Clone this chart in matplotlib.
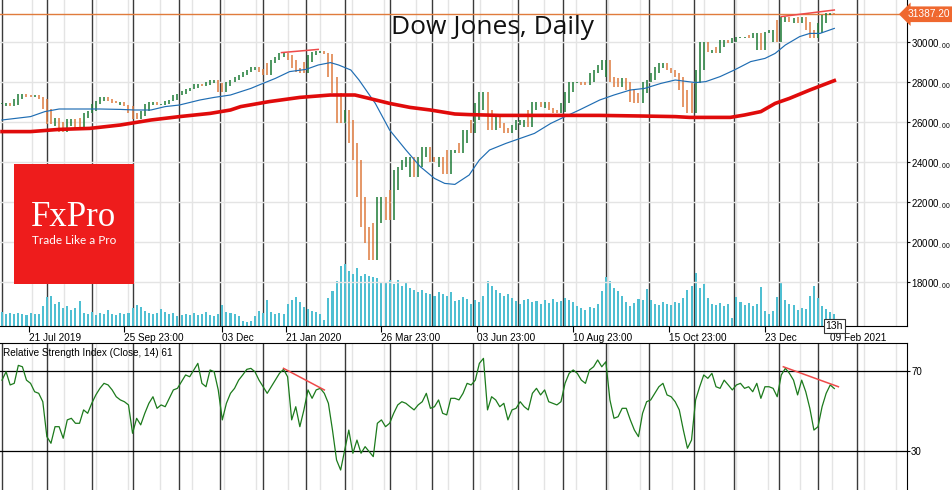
import matplotlib
matplotlib.use('Agg')
import matplotlib.pyplot as plt
import matplotlib.transforms as mtransforms
from matplotlib.patches import Rectangle
from matplotlib.ticker import FuncFormatter
import numpy as np

plt.rcParams['font.family'] = ['Liberation Sans', 'DejaVu Sans']
plt.rcParams['font.size'] = 7.2
plt.rcParams['mathtext.fontset'] = 'custom'
plt.rcParams['mathtext.rm'] = 'Liberation Sans'
plt.rcParams['mathtext.default'] = 'regular'

# Dow Jones daily, Jul 2019 - Feb 2021, one sample every 2 trading days
close = [
    26900, 26950, 26800, 26850, 27150, 27400, 27300, 27250, 27350, 27250,
    27150, 26650, 25900, 26200, 25800, 25500, 26000, 26150, 25800, 25700,
    26200, 26450, 26550, 26900, 27050, 27250, 27150, 27050, 26950, 27000,
    26850, 26800, 26450, 26150, 26300, 26550, 26900, 27000, 26850, 26850,
    26900, 27050, 27100, 27350, 27400, 27550, 27650, 27700, 27900, 27800,
    27850, 28000, 28100, 27950, 27500, 27800, 28000, 28100, 28250, 28350,
    28500, 28600, 28750, 28650, 28500, 28350, 28950, 29100, 29250, 29450,
    29350, 29100, 28700, 28500, 28450, 29000, 29350, 29500, 29550, 29450,
    29400, 28250, 27450, 25950, 26600, 26100, 24950, 24100, 22250, 20750,
    19950, 19100, 20950, 22250, 21750, 21100, 22600, 23600, 23750, 24100,
    24250, 23250, 23750, 24250, 24750, 24250, 24000, 24250, 23750, 23400,
    24600, 24600, 24450, 24950, 25600, 25450, 26100, 26950, 27500, 26600,
    25600, 26250, 25950, 25700, 25450, 25600, 25850, 26100, 26100, 25750,
    26600, 27000, 26750, 27000, 26700, 26600, 26450, 26500, 26950, 27500,
    28000, 28000, 27950, 27850, 28000, 28450, 28600, 28850, 29100, 28250,
    28000, 27750, 28200, 28000, 27600, 27000, 26950, 27450, 28000, 28100,
    28450, 28750, 28950, 28700, 28600, 28450, 28250, 27600, 26750, 26450,
    27950, 28600, 30000, 29500, 29600, 29450, 29750, 30100, 29950, 30000,
    30200, 30250, 30250, 30200, 30350, 30450, 29600, 30450, 30500, 30600,
    30000, 31100, 31250, 31000, 31200, 30950, 31250, 31000, 30600, 30200,
    30450, 30950, 31350, 31450, 31387.2,
]

volume = [
    14, 12, 13, 12, 13, 12, 11, 13, 12, 12,
    20, 29, 30, 22, 24, 18, 20, 16, 18, 25,
    13, 12, 14, 11, 13, 12, 16, 12, 11, 13,
    12, 13, 18, 21, 19, 15, 13, 12, 13, 17,
    14, 12, 13, 10, 11, 12, 11, 13, 11, 12,
    14, 11, 10, 12, 21, 14, 13, 12, 10, 5,
    4, 5, 10, 15, 13, 26, 14, 12, 13, 12,
    22, 26, 29, 24, 19, 17, 15, 14, 12, 6,
    28, 35, 45, 60, 62, 55, 52, 58, 50, 52,
    50, 49, 48, 44, 43, 46, 42, 46, 40, 44,
    38, 36, 34, 36, 33, 32, 30, 34, 32, 30,
    34, 25, 26, 29, 27, 22, 26, 24, 30, 45,
    40, 36, 33, 30, 32, 28, 25, 22, 26, 27,
    24, 25, 22, 26, 23, 27, 24, 25, 28, 26,
    24, 20, 18, 16, 19, 18, 22, 35, 49, 45,
    38, 35, 30, 24, 20, 23, 27, 26, 37, 26,
    22, 21, 24, 22, 21, 24, 23, 28, 36, 40,
    53, 38, 42, 28, 22, 21, 23, 20, 22, 8,
    29, 24, 21, 23, 20, 22, 39, 15, 12, 15,
    29, 44, 26, 22, 21, 16, 18, 17, 30, 40,
    28, 20, 17, 14, 12,
]

rsi = [
    65.6, 69.8, 63.2, 64.0, 73.0, 72.3, 65.6, 64.0, 59.8, 59.0,
    54.8, 37.3, 34.0, 42.3, 42.3, 36.5, 45.7, 46.5, 44.0, 44.0,
    50.7, 49.0, 54.0, 58.2, 61.5, 64.0, 63.2, 60.7, 57.3, 55.7,
    54.8, 53.2, 39.0, 46.5, 43.2, 49.0, 54.0, 57.3, 51.5, 53.2,
    52.3, 56.5, 60.7, 61.5, 64.8, 68.2, 67.3, 70.7, 74.0, 64.0,
    62.3, 70.7, 69.8, 60.7, 45.7, 54.0, 59.0, 61.5, 65.6, 68.2,
    71.0, 71.5, 69.8, 65.6, 62.3, 59.0, 62.3, 65.6, 69.0, 71.0,
    67.3, 45.7, 52.3, 42.3, 50.7, 60.7, 56.5, 60.7, 61.5, 59.0,
    54.0, 40.6, 25.6, 20.6, 30.7, 40.6, 29.0, 35.6, 29.0, 32.3,
    29.8, 27.3, 44.0, 45.7, 42.3, 44.0, 49.0, 53.2, 54.8, 54.0,
    52.3, 50.7, 53.2, 54.8, 59.0, 51.5, 52.3, 55.7, 49.0, 48.2,
    56.5, 56.5, 55.7, 59.0, 64.0, 63.2, 65.6, 74.0, 76.5, 50.7,
    57.3, 55.7, 52.3, 54.0, 45.7, 50.7, 51.5, 54.8, 52.3, 50.7,
    59.0, 61.5, 58.2, 60.7, 54.8, 54.0, 53.2, 54.8, 64.0, 69.0,
    70.7, 69.0, 65.6, 64.0, 70.7, 72.3, 75.7, 72.3, 74.8, 55.7,
    46.5, 47.3, 51.5, 51.5, 45.7, 40.6, 37.3, 49.0, 54.8, 55.7,
    59.0, 62.3, 64.0, 58.2, 57.3, 54.8, 50.7, 40.6, 31.5, 35.6,
    55.7, 62.3, 68.2, 66.5, 69.0, 62.3, 61.5, 65.6, 63.2, 60.7,
    63.2, 64.0, 61.5, 62.3, 59.8, 64.0, 56.5, 62.3, 62.3, 61.5,
    57.3, 68.2, 71.5, 69.0, 65.6, 58.2, 65.6, 59.8, 51.5, 40.6,
    42.3, 52.3, 59.0, 63.2, 61.4,
]

# moving averages (trading-day index, value)
ma_fast_days = [0, 14, 21, 28, 38, 48, 58, 65, 73, 80, 87, 97, 104, 112, 122, 126,
                134, 141, 149, 155, 161, 165, 171, 175, 183, 190, 198, 205, 212, 217,
                222, 229, 234, 239, 247, 254, 261, 269, 276, 283, 293, 300, 308, 315,
                323, 330, 340, 345, 352, 359, 367, 374, 379, 384, 391, 396, 401, 408]
ma_fast = [26100, 26270, 26520, 26650, 26650, 26650, 26630, 26600, 26600, 26770,
           26850, 27100, 27230, 27350, 27680, 27850, 28180, 28520, 28630, 28850,
           28970, 28850, 28600, 28100, 26930, 25600, 24600, 23770, 23180, 22930,
           22880, 23350, 24100, 24600, 24930, 25180, 25430, 25930, 26270, 26600,
           27100, 27350, 27600, 27680, 27930, 28100, 27970, 28020, 28270, 28600,
           29020, 29180, 29430, 29850, 30270, 30430, 30430, 30680]

ma_slow_days = [0, 14, 28, 43, 58, 73, 87, 102, 112, 117, 131, 146, 161, 173, 180,
                190, 200, 210, 222, 229, 244, 264, 278, 293, 313, 330, 337, 357, 364,
                372, 379, 386, 396, 408]
ma_slow = [25520, 25520, 25630, 25680, 25850, 26100, 26270, 26430, 26600, 26770,
           27020, 27230, 27350, 27350, 27180, 26930, 26730, 26600, 26400, 26370,
           26330, 26330, 26330, 26330, 26300, 26270, 26230, 26230, 26350, 26520,
           26930, 27180, 27600, 28070]

# hand-drawn trend lines (price and RSI)
price_trend_days = [[137, 155], [382, 408]]
price_trend_vals = [[29470, 29630], [31270, 31600]]
rsi_trend_days = [[138, 158], [383, 410]]
rsi_trend_vals = [[71.5, 60.7], [72.3, 62.3]]

# trading days per month, Jul 2019 .. Feb 2021 (period separators)
month_days = [22, 22, 20, 23, 20, 21, 21, 19, 22, 21, 20, 22, 22, 21, 21, 22, 20, 22, 19, 19]

tick_days = [13, 60, 108, 139, 186, 233, 280, 327, 374, 406]
tick_labels = ['21 Jul 2019', '25 Sep 23:00', '03 Dec', '21 Jan 2020', '26 Mar 23:00',
               '03 Jun 23:00', '10 Aug 23:00', '15 Oct 23:00', '23 Dec', '09 Feb 2021']

GREEN = '#1d7a36'
ORANGE = '#de7a3e'
W, H = 952, 490
PX_PER_DAY = 2.04

close = np.array(close, dtype=float)
x = np.arange(len(close)) * 2
xlim = (-2 / PX_PER_DAY, 905 / PX_PER_DAY)
separators = np.concatenate([[0], np.cumsum(month_days)])
grid_days = (np.arange(32, 907, 32) - 2) / PX_PER_DAY

fig = plt.figure(figsize=(W / 100, H / 100), dpi=100)
ax_vol = fig.add_axes([0, 164 / H, 907 / W, 326 / H])
ax = fig.add_axes([0, 164 / H, 907 / W, 326 / H], sharex=ax_vol)
ax_rsi = fig.add_axes([0, 0, 907 / W, 147 / H])
ax.set_zorder(2)
ax.patch.set_visible(False)

# background grid and month separators
for a in (ax_vol, ax_rsi):
    for d in grid_days:
        a.axvline(d, color='#e4e4e4', lw=1.0, zorder=0)
    for d in separators:
        a.axvline(d, color='#3a3a3a', lw=1.0, zorder=1)

# volume
ax_vol.bar(x, volume, width=1.0, color='#4fbfd2', zorder=2)
ax_vol.set_ylim(0, 326)
ax_vol.set_xlim(*xlim)
ax_vol.axis('off')

# price bars: each bar spans the closes around it, coloured by direction
prev = np.r_[close[0], close[:-1]]
nxt = np.r_[close[1:], close[-1]]
lo = np.minimum(np.minimum(prev, close), nxt)
hi = np.maximum(np.maximum(prev, close), nxt)
up = close >= prev
ax.vlines(x[up], lo[up], hi[up], color=GREEN, lw=1.1, zorder=3)
ax.vlines(x[~up], lo[~up], hi[~up], color=ORANGE, lw=1.1, zorder=3)

ax.plot(ma_fast_days, ma_fast, color='#1f6db3', lw=0.85, zorder=4)
ax.plot(ma_slow_days, ma_slow, color='#e00b0b', lw=2.6, zorder=4)
for d, v in zip(price_trend_days, price_trend_vals):
    ax.plot(d, v, color='#ee4a4a', lw=1.1, zorder=5)

last = close[-1]
ax.axhline(last, color='#e07b3c', lw=1.0, zorder=2)
ax.text(950 / 907, last, f'{last:.2f}',
        transform=mtransforms.blended_transform_factory(ax.transAxes, ax.transData),
        ha='right', va='center', color='white', fontsize=7.3, clip_on=False, zorder=10,
        bbox=dict(boxstyle='larrow,pad=0.28', fc='#ef682f', ec='none'))

ax.set_xlim(*xlim)
ax.set_ylim(15800, 32100)
ax.set_yticks(range(18000, 30001, 2000))
ax.yaxis.set_major_formatter(FuncFormatter(lambda v, p: f'{int(v)}' + r'$_{.00}$'))
ax.grid(axis='y', color='#e4e4e4', lw=1.0)
ax.yaxis.tick_right()
ax.tick_params(axis='y', length=2, pad=1, labelsize=7)
ax.set_xticks(tick_days)
ax.set_xticklabels(tick_labels, ha='left')
ax.tick_params(axis='x', length=4, pad=1, labelsize=7.2)
for s in ('top', 'left'):
    ax.spines[s].set_visible(False)
for s in ('right', 'bottom'):
    ax.spines[s].set_color('black')

ax.text(x[-1], 0, '13h', transform=mtransforms.blended_transform_factory(ax.transData, ax.transAxes),
        ha='center', va='center', fontsize=7.5, zorder=20, clip_on=False,
        bbox=dict(boxstyle='square,pad=0.2', fc='white', ec='#333333', lw=0.8))

# RSI panel
ax_rsi.plot(x, rsi, color='#1c7a1c', lw=0.9, zorder=3)
for d, v in zip(rsi_trend_days, rsi_trend_vals):
    ax_rsi.plot(d, v, color='#ee4a4a', lw=1.1, zorder=4)
ax_rsi.axhline(70, color='black', lw=0.9, zorder=2)
ax_rsi.axhline(30, color='black', lw=0.9, zorder=2)
ax_rsi.set_xlim(*xlim)
ax_rsi.set_ylim(10.6, 84.2)
ax_rsi.set_xticks([])
ax_rsi.set_yticks([30, 70])
ax_rsi.yaxis.tick_right()
ax_rsi.tick_params(axis='y', length=2, pad=1, labelsize=7)
for s in ('left', 'bottom'):
    ax_rsi.spines[s].set_visible(False)
ax_rsi.text(0.003, 0.965, f'Relative Strength Index (Close, 14) {rsi[-1]:.0f}',
            transform=ax_rsi.transAxes, ha='left', va='top', fontsize=7.2)

# title and logo
fig.text(492 / W, 1 - 27 / H, 'Dow Jones, Daily', ha='center', va='center',
         family='Open Sans', fontsize=19, color='#111111')
fig.add_artist(Rectangle((14 / W, 1 - 284 / H), 120 / W, 120 / H, transform=fig.transFigure,
                         fc='#ee1c1c', ec='none', zorder=5))
fig.text(74 / W, 1 - 217 / H, 'FxPro', ha='center', va='center', family='Liberation Serif',
         fontsize=25, color='white', zorder=6)
fig.text(74 / W, 1 - 240 / H, 'Trade Like a Pro', ha='center', va='center', family='Lato',
         fontsize=8.5, color='white', zorder=6)

fig.savefig('out.png', dpi=100)
